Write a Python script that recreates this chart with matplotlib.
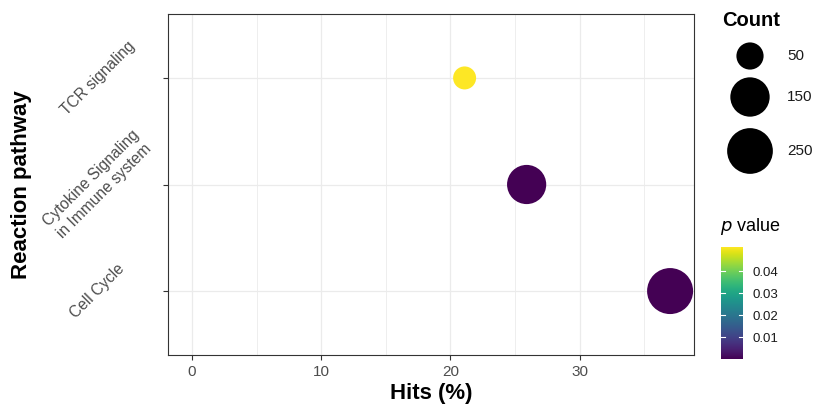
import numpy as np
import matplotlib
matplotlib.use("Agg")
import matplotlib.pyplot as plt
from matplotlib.ticker import MultipleLocator
from matplotlib.colors import Normalize

# data
pathways = ["Cell Cycle", "Cytokine Signaling\nin Immune system", "TCR signaling"]
hits = [37.0, 25.9, 21.1]
counts = [255, 148, 43]
pvalues = [1e-8, 1e-5, 0.051]
size_breaks = [50, 150, 250]
cbar_ticks = [0.01, 0.02, 0.03, 0.04]

plt.rcParams['font.family'] = ['Liberation Sans', 'DejaVu Sans']

W, H = 813, 407
fig = plt.figure(figsize=(W / 100, H / 100), dpi=100)


def frac(x0, y0, x1, y1):
    # pixel box -> figure fraction [left, bottom, width, height]
    return [x0 / W, 1 - y1 / H, (x1 - x0) / W, (y1 - y0) / H]


def diam_pt(c):
    # area-like size scale, like ggplot scale_size (min/max diameter in px)
    lo, hi = min(counts), max(counts)
    d_px = 23 + (46 - 23) * np.sqrt((np.asarray(c, float) - lo) / (hi - lo))
    return d_px * 72 / 100


ax = fig.add_axes(frac(168, 14, 694, 355))
norm = Normalize(min(pvalues), max(pvalues))
cmap = plt.get_cmap("viridis")

ypos = np.arange(1, len(pathways) + 1)
ax.scatter(hits, ypos, s=diam_pt(counts) ** 2, c=pvalues, cmap=cmap, norm=norm,
           linewidths=0, zorder=3)

ax.set_xlim(-1.85, 38.85)
ax.set_ylim(0.4, 3.6)
ax.xaxis.set_major_locator(MultipleLocator(10))
ax.xaxis.set_minor_locator(MultipleLocator(5))
ax.set_yticks(ypos)
ax.set_yticklabels(pathways)
ax.grid(which="major", color="#EBEBEB", lw=0.9, zorder=0)
ax.grid(which="minor", axis="x", color="#EBEBEB", lw=0.6, zorder=0)
ax.set_axisbelow(True)
for sp in ax.spines.values():
    sp.set_color("#333333")
    sp.set_linewidth(0.8)
ax.tick_params(which="major", length=3.6, width=0.8, color="#333333",
               labelsize=11, labelcolor="#4D4D4D")
ax.tick_params(which="minor", length=0)
ax.tick_params(axis="x", pad=3.5)
ax.tick_params(axis="y", pad=47)
for lab in ax.get_yticklabels():
    lab.set_rotation(45)
    lab.set_rotation_mode("anchor")
    lab.set_ha("center")
    lab.set_va("center")
    lab.set_multialignment("center")
    lab.set_fontsize(11.2)

fig.text(431 / W, 1 - 399 / H, "Hits (%)", fontsize=16, fontweight="bold",
         ha="center", va="baseline")
fig.text(22 / W, 1 - 185 / H, "Reaction pathway", fontsize=16, fontweight="bold",
         rotation=90, ha="center", va="center")

# size legend
lax = fig.add_axes([0, 0, 1, 1])
lax.set_xlim(0, W)
lax.set_ylim(H, 0)
lax.axis("off")
lax.text(722, 20, "Count", fontsize=14.5, fontweight="bold", ha="left", va="center")
leg_y = [56, 97, 151]
lax.scatter([750] * 3, leg_y, s=diam_pt(size_breaks) ** 2, c="black", linewidths=0)
for yy, b in zip(leg_y, size_breaks):
    lax.text(787, yy, str(b), fontsize=11, ha="left", va="center", color="#1A1A1A")

# colour legend
fig.text(720 / W, 1 - 226 / H, "$\\it{p}$ value", fontsize=13, ha="left", va="center")
cax = fig.add_axes(frac(721, 247, 743, 359))
grad = np.linspace(0, 1, 256).reshape(-1, 1)
cax.imshow(grad, aspect="auto", cmap=cmap, origin="lower",
           extent=[0, 1, norm.vmin, norm.vmax])
cax.set_xlim(0, 1)
cax.set_ylim(norm.vmin, norm.vmax)
for t in cbar_ticks:
    cax.plot([0, 0.2], [t, t], color="white", lw=0.8)
    cax.plot([0.8, 1], [t, t], color="white", lw=0.8)
cax.set_xticks([])
cax.yaxis.tick_right()
cax.set_yticks(cbar_ticks)
cax.set_yticklabels([f"{t:.2f}" for t in cbar_ticks])
cax.tick_params(axis="y", length=0, pad=7, labelsize=9.5, labelcolor="#1A1A1A")
for sp in cax.spines.values():
    sp.set_visible(False)

fig.savefig("out.png", dpi=100)
